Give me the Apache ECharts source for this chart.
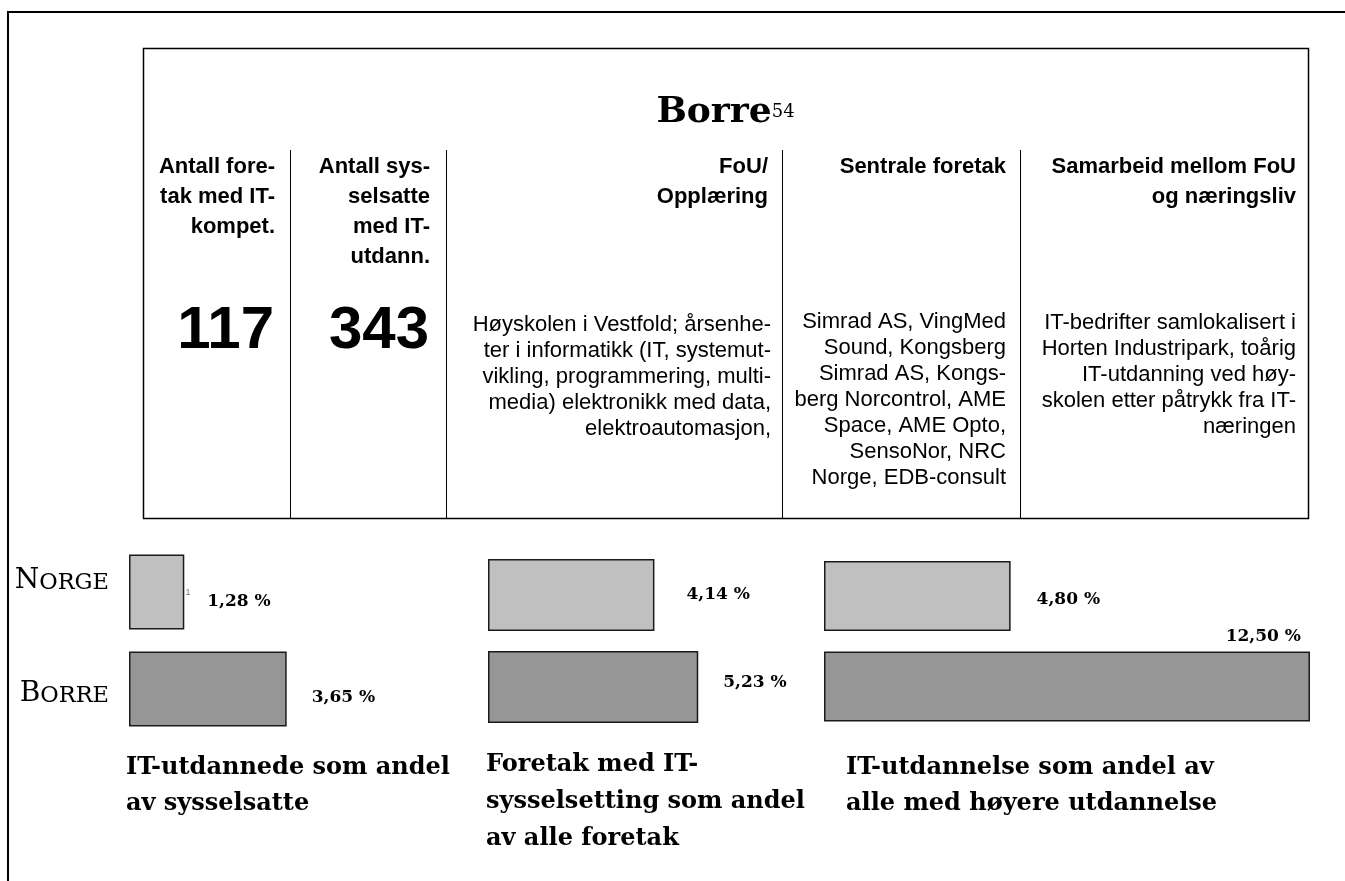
<!DOCTYPE html>
<html><head><meta charset="utf-8">
<script src="https://cdn.jsdelivr.net/npm/echarts@6/dist/echarts.min.js"></script>
<style>html,body{margin:0;padding:0;background:#fff}#c{width:1345px;height:881px}</style>
</head><body><div id="c"></div>
<script>
// ---------- data ----------
const categories = ['Norge', 'Borre'];
const groupTitles = [
  'IT-utdannede som andel\nav sysselsatte',
  'Foretak med IT-\nsysselsetting som andel\nav alle foretak',
  'IT-utdannelse som andel av\nalle med høyere utdannelse'
];
const norgeValues = [1.28, 4.14, 4.80];
const borreValues = [3.65, 5.23, 12.50];
const regionTitle = 'Borre';
const footnoteNo = '54';
const tableHeaders = [
  'Antall fore-\ntak med IT-\nkompet.',
  'Antall sys-\nselsatte\nmed IT-\nutdann.',
  'FoU/\nOpplæring',
  'Sentrale foretak',
  'Samarbeid mellom FoU\nog næringsliv'
];
const keyCounts = [117, 343];
const tableTexts = [
  'Høyskolen i Vestfold; årsenhe-\nter i informatikk (IT, systemut-\nvikling, programmering, multi-\nmedia) elektronikk med data,\nelektroautomasjon,',
  'Simrad AS, VingMed\nSound, Kongsberg\nSimrad AS, Kongs-\nberg Norcontrol, AME\nSpace, AME Opto,\nSensoNor, NRC\nNorge, EDB-consult',
  'IT-bedrifter samlokalisert i\nHorten Industripark, toårig\nIT-utdanning ved høy-\nskolen etter påtrykk fra IT-\nnæringen'
];

// ---------- layout ----------
const SANS = '"Liberation Sans", Arial, sans-serif';
const SERIF = '"DejaVu Serif", serif';
const gridDefs = [
  {left: 129, width: 172.8, max: 4, top: 543.5, height: 194, barWidth: 75},
  {left: 488, width: 241.2, max: 6, top: 549, height: 184, barWidth: 72},
  {left: 824, width: 486, max: 12.5, top: 550.75, height: 181, barWidth: 70}
];
const labelCfg = [
  [{position: 'right', offset: [23, 10]}, {position: 'right', offset: [25, 9]}],
  [{position: 'right', offset: [32, 0]}, {position: 'right', offset: [25, -4]}],
  [{position: 'right', offset: [26, 4]}, {position: 'insideTopRight', offset: [-4, -28]}]
];
const barColors = ['#c0c0c0', '#969696'];
const seriesValues = [norgeValues, borreValues];
const fmt = v => v.toFixed(2).replace('.', ',') + ' %';

const grids = [], xAxes = [], yAxes = [], series = [];
gridDefs.forEach((g, i) => {
  grids.push({left: g.left, top: g.top, width: g.width, height: g.height, containLabel: false, outerBoundsMode: 'none'});
  xAxes.push({type: 'value', gridIndex: i, min: 0, max: g.max, show: false});
  yAxes.push({
    type: 'category', gridIndex: i, inverse: true,
    data: i === 0 ? [
      {value: categories[0], textStyle: {padding: [0, 0, 23, 0]}},
      {value: categories[1], textStyle: {padding: [9, 0, 0, 0]}}
    ] : categories,
    axisLine: {show: false}, axisTick: {show: false}, splitLine: {show: false},
    axisLabel: {
      show: i === 0, margin: 20,
      formatter: v => '{a|' + v[0].toUpperCase() + '}{b|' + v.slice(1).toUpperCase() + '}',
      rich: {
        a: {fontFamily: SERIF, fontSize: 28, lineHeight: 28, color: '#000', verticalAlign: 'bottom'},
        b: {fontFamily: SERIF, fontSize: 22.5, lineHeight: 22.5, color: '#000', verticalAlign: 'bottom'}
      }
    }
  });
  series.push({
    type: 'bar', xAxisIndex: i, yAxisIndex: i, barWidth: g.barWidth,
    data: categories.map((c, j) => ({
      value: seriesValues[j][i],
      itemStyle: {color: barColors[j], borderColor: '#1a1a1a', borderWidth: 1.5},
      label: {
        show: true, position: labelCfg[i][j].position, offset: labelCfg[i][j].offset,
        distance: labelCfg[i][j].position === 'right' ? 0 : 5,
        formatter: p => fmt(p.value),
        fontFamily: SERIF, fontWeight: 'bold', fontSize: 17, color: '#000'
      }
    }))
  });
});

const graphic = [];
// outer frame
graphic.push({type: 'line', shape: {x1: 7, y1: 12, x2: 1345, y2: 12}, style: {stroke: '#000', lineWidth: 2}});
graphic.push({type: 'line', shape: {x1: 8, y1: 11, x2: 8, y2: 881}, style: {stroke: '#000', lineWidth: 2}});
// inner table box
graphic.push({type: 'rect', shape: {x: 143.5, y: 48.5, width: 1165, height: 470}, style: {fill: 'none', stroke: '#000', lineWidth: 1.5}});
[290, 446, 782, 1020].forEach(x => graphic.push({type: 'line', shape: {x1: x + 0.5, y1: 150, x2: x + 0.5, y2: 519}, style: {stroke: '#000', lineWidth: 1}}));
// title
graphic.push({type: 'text', x: 725.5, y: 94.5, style: {
  text: '{b|' + regionTitle + '}{s|' + footnoteNo + '}', align: 'center', verticalAlign: 'top',
  rich: {
    b: {fontFamily: SERIF, fontWeight: 'bold', fontSize: 36, lineHeight: 36, fill: '#000', verticalAlign: 'top'},
    s: {fontFamily: SERIF, fontSize: 18, lineHeight: 18, fill: '#000', verticalAlign: 'top', padding: [9, 0, 0, 0]}
  }
}});
// headers
const headerRight = [275, 430, 768, 1006, 1296];
tableHeaders.forEach((t, i) => graphic.push({type: 'text', x: headerRight[i], y: 152, style: {
  text: t, align: 'right', verticalAlign: 'top', font: 'bold 22px ' + SANS, lineHeight: 30, fill: '#000'
}}));
// key numbers
const countRight = [274, 429];
keyCounts.forEach((n, i) => graphic.push({type: 'text', x: countRight[i], y: 331, style: {
  text: String(n), align: 'right', verticalAlign: 'middle', font: 'bold 60px ' + SANS, fill: '#000'
}}));
// body texts
const bodyRight = [771, 1006, 1296];
const bodyTop = [312, 309, 310];
tableTexts.forEach((t, i) => graphic.push({type: 'text', x: bodyRight[i], y: bodyTop[i], style: {
  text: t, align: 'right', verticalAlign: 'top', font: '22px ' + SANS, lineHeight: 26, fill: '#000'
}}));
// tiny stray mark
graphic.push({type: 'text', x: 188, y: 593, style: {text: '1', font: '9px ' + SANS, fill: '#777', align: 'center', verticalAlign: 'middle'}});
// group captions
const capLeft = [126, 486, 846];
const capTop = [750, 746, 750];
const capLH = [36, 37, 36];
groupTitles.forEach((t, i) => graphic.push({type: 'text', x: capLeft[i], y: capTop[i], style: {
  text: t, align: 'left', verticalAlign: 'top', font: 'bold 24px ' + SERIF, lineHeight: capLH[i], fill: '#000'
}}));

const chart = echarts.init(document.getElementById('c'), null, {renderer: 'canvas'});
chart.setOption({
  animation: false,
  backgroundColor: '#fff',
  grid: grids, xAxis: xAxes, yAxis: yAxes, series: series,
  graphic: graphic
});
</script>
</body></html>
